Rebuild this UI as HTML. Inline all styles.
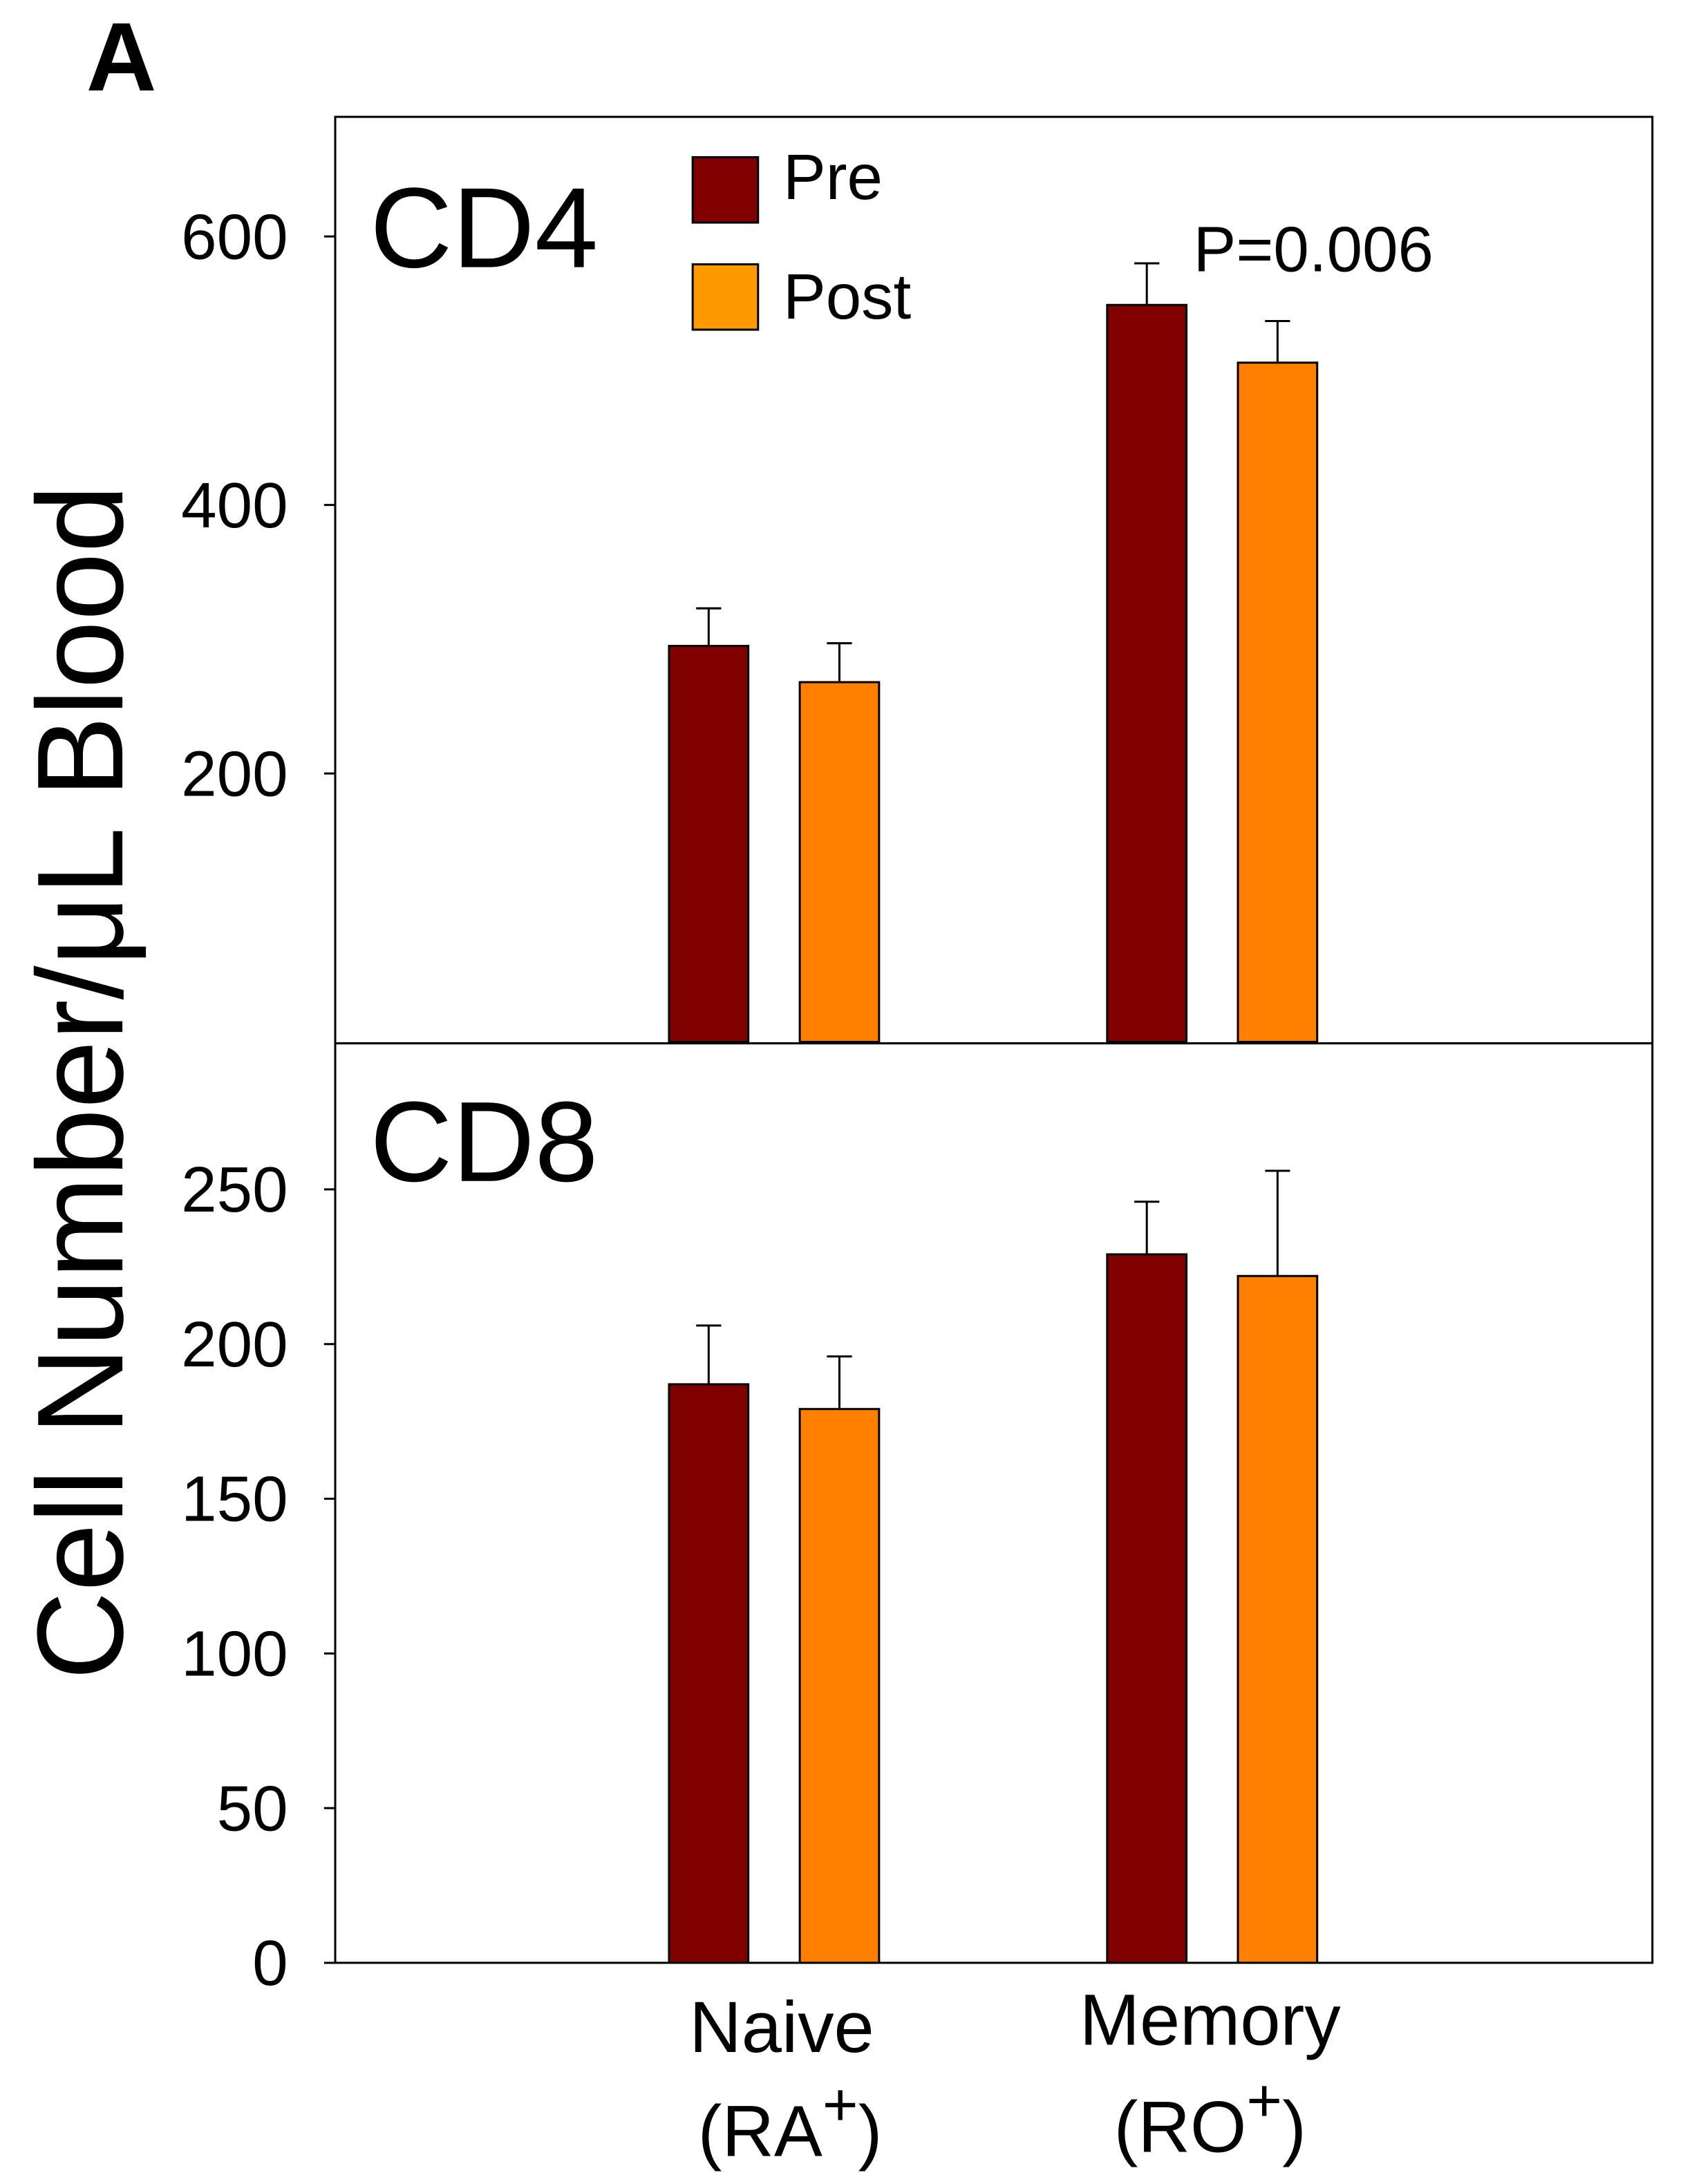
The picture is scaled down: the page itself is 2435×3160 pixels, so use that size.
<!DOCTYPE html>
<html><head><meta charset="utf-8"><style>
html,body{margin:0;padding:0;background:#fff;}
svg{display:block;font-family:"Liberation Sans",Arial,sans-serif;}
</style></head><body>
<svg id="chart" width="2435" height="3160" viewBox="0 0 1210 1570" preserveAspectRatio="none" xmlns="http://www.w3.org/2000/svg">
<rect width="1210" height="1570" fill="#fff"/>
<text x="62" y="65" font-size="70" font-weight="bold">A</text>
<text transform="translate(88,778) rotate(-90)" text-anchor="middle" font-size="88">Cell Number/μL Blood</text>
<g id="cd4"></g>
<g id="cd8"></g>
<rect x="241" y="84" width="947" height="1327" fill="none" stroke="#000" stroke-width="1.5"/>
<line x1="241" y1="750" x2="1188" y2="750" stroke="#000" stroke-width="1.5"/>
<text x="266" y="192" font-size="82">CD4</text>
<text x="266" y="849" font-size="82">CD8</text>
<rect x="498" y="113" width="47" height="47" fill="#800000" stroke="#000" stroke-width="1.5"/>
<text x="563" y="143" font-size="46">Pre</text>
<rect x="498" y="190" width="47" height="47" fill="#FF9900" stroke="#000" stroke-width="1.5"/>
<text x="563" y="229" font-size="46">Post</text>
<text x="858" y="195" font-size="46">P=0.006</text>
<text x="562" y="1475" text-anchor="middle" font-size="52">Naive</text>
<text x="568" y="1550" text-anchor="middle" font-size="52">(RA<tspan dy="-22" font-size="44">+</tspan><tspan dy="22">)</tspan></text>
<text x="870" y="1470" text-anchor="middle" font-size="52">Memory</text>
<text x="870" y="1547" text-anchor="middle" font-size="52">(RO<tspan dy="-22" font-size="44">+</tspan><tspan dy="22">)</tspan></text>
<script>
const categories = ["Naive", "Memory"];
const cd4Pre = [295, 549];
const cd4Post = [268, 506];
const cd4PreErr = [28, 31];
const cd4PostErr = [29, 31];
const cd4Ticks = [200, 400, 600];
const cd8Pre = [187, 229];
const cd8Post = [179, 222];
const cd8PreErr = [19, 17];
const cd8PostErr = [17, 34];
const cd8Ticks = [0, 50, 100, 150, 200, 250];

const NS = "http://www.w3.org/2000/svg";
function mk(parent, tag, attrs) {
  const e = document.createElementNS(NS, tag);
  for (const k in attrs) e.setAttribute(k, attrs[k]);
  parent.appendChild(e);
  return e;
}
const groupX = i => [481, 796][i];
const barW = 57, gap = 94;

function drawPanel(id, pre, post, preE, postE, ticks, y0, pxPerUnit, prefix) {
  const g = document.getElementById(id);
  const y = v => y0 - v * pxPerUnit;
  ticks.forEach(t => {
    const tl = mk(g, "line", {x1: 233, x2: 241, y1: y(t), y2: y(t), stroke: "#000", "stroke-width": 1.5});
    
    
    const tx = mk(g, "text", {x: 207, y: y(t) + 16, "text-anchor": "end", "font-size": 46});
    
    
    tx.textContent = t;
  });
  categories.forEach((c, i) => {
    [[pre, preE, "#800000", 0, "pre"], [post, postE, "#FF8000", gap, "post"]].forEach(([vals, errs, col, off, nm]) => {
      const x = groupX(i) + off;
      const r = mk(g, "rect", {x: x, y: y(vals[i]), width: barW, height: y(0) - y(vals[i]), fill: col, stroke: "#000", "stroke-width": 1.5});
      
      
      const cx = x + barW / 2;
      const el = mk(g, "path", {d: `M${cx},${y(vals[i])}V${y(vals[i] + errs[i])}M${cx - 9},${y(vals[i] + errs[i])}H${cx + 9}`, stroke: "#000", "stroke-width": 1.5, fill: "none"});
      
      
    });
  });
}
drawPanel("cd4", cd4Pre, cd4Post, cd4PreErr, cd4PostErr, cd4Ticks, 749, 0.965, "cd4");
drawPanel("cd8", cd8Pre, cd8Post, cd8PreErr, cd8PostErr, cd8Ticks, 1411, 2.224, "cd8");
</script>
</svg>
</body></html>
